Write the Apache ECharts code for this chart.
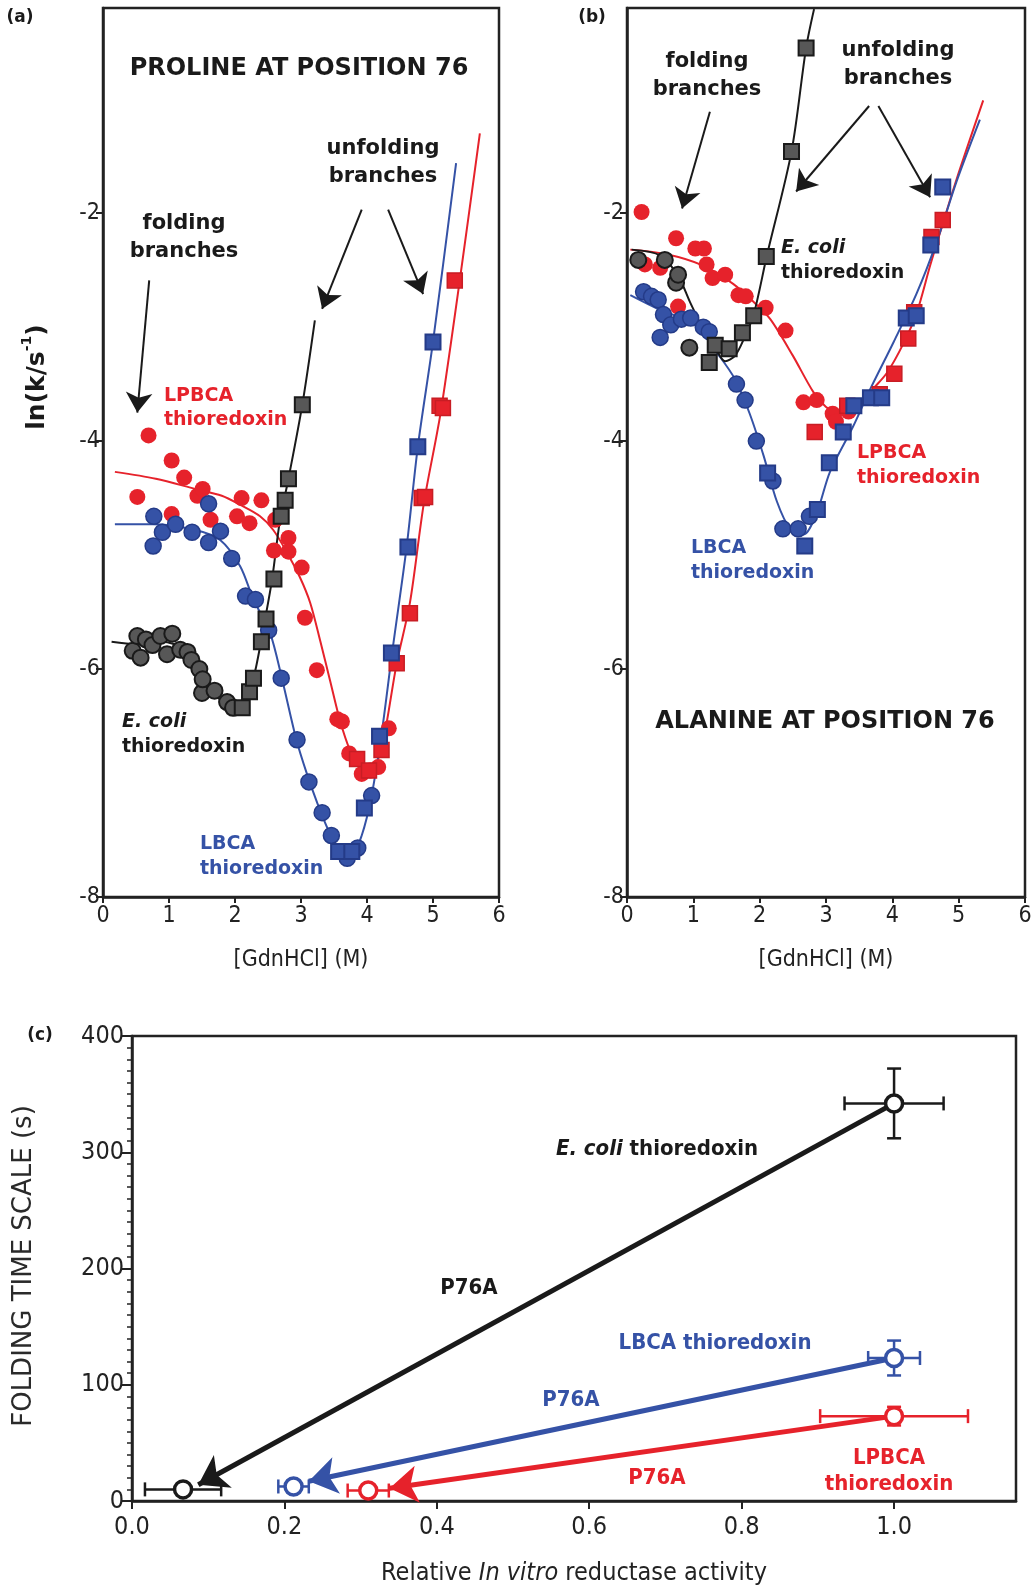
<!DOCTYPE html>
<html>
<head>
<meta charset="utf-8">
<title>Thioredoxin folding kinetics</title>
<script src="https://cdn.jsdelivr.net/npm/echarts@6/dist/echarts.min.js"></script>
<style>
  html, body { margin: 0; padding: 0; background: #fff; }
  #main { width: 1035px; height: 1588px; }
</style>
</head>
<body>
<div id="main"></div>
<script>
// ---- panel (a): proline at position 76, [x = GdnHCl (M), y = ln(k/s-1)]
var aLpbcaFold = [[0.52,-4.49],[0.69,-3.95],[1.04,-4.17],[1.04,-4.64],[1.23,-4.32],[1.43,-4.48],[1.51,-4.42],[1.63,-4.69],[2.03,-4.66],[2.10,-4.50],[2.22,-4.72],[2.40,-4.52],[2.59,-4.96],[2.61,-4.69],[2.81,-4.85],[2.81,-4.97],[3.01,-5.11],[3.06,-5.55],[3.24,-6.01],[3.55,-6.44],[3.62,-6.46],[3.73,-6.74],[3.92,-6.92],[4.05,-6.89],[4.17,-6.86],[4.33,-6.52]];
var aLpbcaUnfold = [[3.85,-6.79],[4.03,-6.89],[4.22,-6.71],[4.45,-5.95],[4.65,-5.51],[4.83,-4.50],[4.88,-4.49],[5.10,-3.69],[5.15,-3.71],[5.33,-2.59]];
var aLpbcaFit = [[0.18,-4.27],[0.80,-4.33],[1.40,-4.42],[1.80,-4.48],[2.08,-4.56],[2.38,-4.66],[2.58,-4.78],[2.78,-4.97],[2.98,-5.19],[3.14,-5.42],[3.29,-5.75],[3.44,-6.10],[3.59,-6.45],[3.74,-6.71],[3.89,-6.86],[4.00,-6.92],[4.12,-6.86],[4.25,-6.62],[4.45,-5.95],[4.65,-5.42],[4.86,-4.55],[5.13,-3.70],[5.71,-1.30]];

var aLbcaFold = [[0.76,-4.92],[0.77,-4.66],[0.90,-4.80],[1.10,-4.73],[1.35,-4.80],[1.60,-4.55],[1.60,-4.89],[1.78,-4.79],[1.95,-5.03],[2.16,-5.36],[2.31,-5.39],[2.51,-5.66],[2.70,-6.08],[2.94,-6.62],[3.12,-6.99],[3.32,-7.26],[3.46,-7.46],[3.70,-7.66],[3.86,-7.57],[4.07,-7.11]];
var aLbcaUnfold = [[3.57,-7.60],[3.77,-7.60],[3.96,-7.22],[4.19,-6.59],[4.37,-5.86],[4.62,-4.93],[4.77,-4.05],[5.00,-3.13]];
var aLbcaFit = [[0.18,-4.73],[0.75,-4.73],[1.40,-4.78],[1.78,-4.87],[2.08,-5.10],[2.28,-5.39],[2.53,-5.68],[2.71,-6.08],[2.93,-6.62],[3.09,-6.92],[3.25,-7.18],[3.42,-7.42],[3.62,-7.61],[3.77,-7.62],[3.92,-7.46],[4.07,-7.11],[4.23,-6.53],[4.38,-5.86],[4.60,-4.93],[4.77,-4.05],[5.00,-3.13],[5.35,-1.56]];

var aEcoliFold = [[0.45,-5.84],[0.52,-5.71],[0.57,-5.90],[0.65,-5.74],[0.75,-5.79],[0.87,-5.71],[0.97,-5.87],[1.05,-5.69],[1.17,-5.83],[1.28,-5.85],[1.34,-5.92],[1.46,-6.00],[1.50,-6.21],[1.51,-6.09],[1.69,-6.19],[1.88,-6.29],[1.97,-6.34]];
var aEcoliUnfold = [[2.11,-6.34],[2.22,-6.20],[2.28,-6.08],[2.40,-5.76],[2.47,-5.56],[2.59,-5.21],[2.70,-4.66],[2.76,-4.52],[2.81,-4.33],[3.02,-3.68]];
var aEcoliFit = [[0.13,-5.76],[0.50,-5.78],[0.90,-5.76],[1.20,-5.82],[1.45,-6.02],[1.70,-6.22],[1.95,-6.34],[2.11,-6.33],[2.22,-6.20],[2.32,-5.98],[2.45,-5.58],[2.56,-5.22],[2.68,-4.70],[2.81,-4.33],[3.02,-3.68],[3.21,-2.94]];

// ---- panel (b): alanine at position 76
var bLpbcaFold = [[0.22,-1.99],[0.27,-2.45],[0.50,-2.48],[0.74,-2.22],[0.77,-2.82],[1.03,-2.31],[1.16,-2.31],[1.20,-2.45],[1.29,-2.57],[1.48,-2.54],[1.68,-2.72],[1.79,-2.73],[2.09,-2.83],[2.39,-3.03],[2.66,-3.66],[2.86,-3.64],[3.10,-3.76],[3.15,-3.83],[3.34,-3.74]];
var bLpbcaUnfold = [[2.83,-3.92],[3.32,-3.69],[3.81,-3.59],[4.03,-3.41],[4.24,-3.10],[4.33,-2.87],[4.59,-2.21],[4.76,-2.06]];
var bLpbcaFit = [[0.05,-2.32],[0.60,-2.36],[1.15,-2.46],[1.60,-2.62],[1.91,-2.78],[2.16,-2.93],[2.50,-3.25],[2.81,-3.57],[3.00,-3.70],[3.20,-3.77],[3.40,-3.76],[3.55,-3.68],[3.67,-3.57],[3.92,-3.40],[4.17,-3.14],[4.37,-2.87],[4.57,-2.46],[4.72,-2.17],[4.97,-1.70],[5.37,-1.01]];

var bLbcaFold = [[0.25,-2.69],[0.37,-2.73],[0.47,-2.76],[0.50,-3.09],[0.55,-2.89],[0.66,-2.98],[0.82,-2.93],[0.96,-2.92],[1.15,-3.00],[1.24,-3.04],[1.65,-3.50],[1.78,-3.64],[1.95,-4.00],[2.20,-4.35],[2.35,-4.77],[2.58,-4.77],[2.75,-4.66]];
var bLbcaUnfold = [[2.12,-4.28],[2.68,-4.92],[2.87,-4.60],[3.05,-4.19],[3.26,-3.92],[3.42,-3.69],[3.67,-3.62],[3.84,-3.62],[4.21,-2.92],[4.36,-2.90],[4.58,-2.28],[4.76,-1.77]];
var bLbcaFit = [[0.05,-2.72],[0.50,-2.85],[1.00,-2.97],[1.40,-3.26],[1.63,-3.46],[1.85,-3.76],[2.06,-4.13],[2.26,-4.53],[2.46,-4.77],[2.66,-4.82],[2.86,-4.63],[3.06,-4.27],[3.41,-3.87],[3.67,-3.54],[4.02,-3.13],[4.37,-2.70],[4.67,-2.25],[4.97,-1.72],[5.32,-1.18]];

var bEcoliFold = [[0.17,-2.41],[0.57,-2.41],[0.74,-2.61],[0.77,-2.54],[0.94,-3.18]];
var bEcoliUnfold = [[1.24,-3.31],[1.33,-3.16],[1.54,-3.19],[1.74,-3.05],[1.91,-2.90],[2.10,-2.38],[2.48,-1.46],[2.70,-0.55]];
var bEcoliFit = [[0.07,-2.32],[0.50,-2.37],[0.77,-2.55],[0.95,-2.78],[1.15,-3.02],[1.33,-3.18],[1.48,-3.30],[1.63,-3.25],[1.78,-3.08],[1.91,-2.89],[2.11,-2.37],[2.48,-1.46],[2.70,-0.55],[2.82,-0.21]];

// annotation arrows (start, tip) in data units
var aArrows = [[[0.70,-2.59],[0.52,-3.75]], [[3.92,-1.97],[3.32,-2.84]], [[4.32,-1.97],[4.85,-2.71]]];
var bArrows = [[[1.25,-1.11],[0.83,-1.96]], [[3.65,-1.06],[2.55,-1.81]], [[3.79,-1.06],[4.57,-1.86]]];

// ---- panel (c): folding time scale vs relative reductase activity [wild type, P76A]
var ecoliX = [1.0, 0.067];   var ecoliY = [342, 10];
var ecoliXErr = [0.065, 0.05]; var ecoliYErr = [30, 0];
var lbcaX = [1.0, 0.212];    var lbcaY = [123, 12.5];
var lbcaXErr = [0.034, 0.02]; var lbcaYErr = [15, 3];
var lpbcaX = [1.0, 0.31];    var lpbcaY = [73, 9];
var lpbcaXErr = [0.097, 0.027]; var lpbcaYErr = [8, 2];
var cArrowTips = [[0.087, 14], [0.232, 17], [0.338, 11]];

var yTicksAB = [-8, -6, -4, -2];
var xTicksC = [0, 0.2, 0.4, 0.6, 0.8, 1.0];

var RED = '#e6222b', RED_D = '#c81d24';
var BLUE = '#3552a6', BLUE_D = '#243b88';
var GRAY = '#575757', BLACK = '#1a1a1a', AX = '#222';
var FONT_BOLD = "'DejaVu Sans', 'Open Sans', sans-serif";
var FONT_NARROW = "'Liberation Sans Narrow', 'DejaVu Sans Condensed', 'Roboto Condensed', sans-serif";

var myChart = echarts.init(document.getElementById('main'));

function pairs(xs, ys) {
  return xs.map(function (x, i) { return [x, ys[i]]; });
}
function errRows(xs, ys, ex, ey) {
  return xs.map(function (x, i) { return [x, ys[i], ex[i], ey[i]]; });
}

function dots(data, gi, symbol, fill, stroke, bw) {
  return {
    type: 'scatter', xAxisIndex: gi, yAxisIndex: gi, data: data,
    symbol: symbol, symbolSize: symbol === 'rect' ? 15 : 16,
    itemStyle: { color: fill, borderColor: stroke, borderWidth: bw, opacity: 1 },
    z: 4, silent: true
  };
}
function curve(data, gi, color) {
  return {
    type: 'line', xAxisIndex: gi, yAxisIndex: gi, data: data,
    smooth: 0.3, showSymbol: false, symbol: 'none',
    lineStyle: { color: color, width: 2 }, z: 2, silent: true
  };
}
function arrows(list, gi, color, width, size) {
  return {
    type: 'lines', coordinateSystem: 'cartesian2d', xAxisIndex: gi, yAxisIndex: gi,
    data: list.map(function (a) { return { coords: a }; }),
    symbol: ['none', 'arrow'], symbolSize: size,
    lineStyle: { color: color, width: width, opacity: 1, curveness: 0 },
    z: 3, silent: true
  };
}
function errBars(rows, color) {
  return {
    type: 'custom', xAxisIndex: 2, yAxisIndex: 2, data: rows, z: 3, silent: true,
    itemStyle: { color: color },
    renderItem: function (params, api) {
      var x = api.value(0), y = api.value(1), ex = api.value(2), ey = api.value(3);
      var l = api.coord([x - ex, y]), r = api.coord([x + ex, y]);
      var st = { stroke: color, lineWidth: 2.5 };
      var cap = 7;
      var ch = [
        { type: 'line', shape: { x1: l[0], y1: l[1], x2: r[0], y2: r[1] }, style: st },
        { type: 'line', shape: { x1: l[0], y1: l[1] - cap, x2: l[0], y2: l[1] + cap }, style: st },
        { type: 'line', shape: { x1: r[0], y1: r[1] - cap, x2: r[0], y2: r[1] + cap }, style: st }
      ];
      if (ey > 0) {
        var b = api.coord([x, y - ey]), t = api.coord([x, y + ey]);
        ch.push({ type: 'line', shape: { x1: b[0], y1: b[1], x2: t[0], y2: t[1] }, style: st });
        ch.push({ type: 'line', shape: { x1: b[0] - cap, y1: b[1], x2: b[0] + cap, y2: b[1] }, style: st });
        ch.push({ type: 'line', shape: { x1: t[0] - cap, y1: t[1], x2: t[0] + cap, y2: t[1] }, style: st });
      }
      return { type: 'group', children: ch };
    }
  };
}
function openDots(data, color) {
  return {
    type: 'scatter', xAxisIndex: 2, yAxisIndex: 2, data: data,
    symbol: 'circle', symbolSize: 17,
    itemStyle: { color: '#fff', borderColor: color, borderWidth: 3.5, opacity: 1 },
    z: 5, silent: true
  };
}

function gdnAxis(gi) {
  return {
    gridIndex: gi, type: 'value', min: 0, max: 6, interval: 1,
    name: '[GdnHCl] (M)', nameLocation: 'middle', nameGap: 52,
    nameTextStyle: { fontSize: 23, color: AX, fontFamily: FONT_NARROW },
    axisLine: { onZero: false, lineStyle: { color: AX, width: 2.5 } },
    axisTick: { show: true, length: 6, lineStyle: { color: AX, width: 2 } },
    axisLabel: { fontSize: 23, color: AX, fontFamily: FONT_NARROW, margin: 8 },
    splitLine: { show: false }
  };
}
function lnAxis(gi) {
  return {
    gridIndex: gi, type: 'value', min: -8, max: -0.2, interval: 2,
    axisLine: { onZero: false, lineStyle: { color: AX, width: 2.5 } },
    axisTick: { show: true, length: 7, customValues: yTicksAB, lineStyle: { color: AX, width: 2 } },
    axisLabel: { fontSize: 23, color: AX, fontFamily: FONT_NARROW, margin: 3, customValues: yTicksAB },
    splitLine: { show: false }
  };
}

function txt(x, y, text, size, color, o) {
  o = o || {};
  return {
    type: 'text', x: x, y: y, rotation: o.rot || 0, z: 20, silent: true,
    style: {
      text: text, fill: color, fontSize: size,
      fontWeight: o.weight || 'bold', fontStyle: 'normal',
      fontFamily: o.family || FONT_BOLD,
      align: o.align || 'center', textAlign: o.align || 'center',
      verticalAlign: 'middle', textVerticalAlign: 'middle',
      lineHeight: o.lh || Math.round(size * 1.3), rich: o.rich
    }
  };
}
function richTok(size, color, italic, family) {
  return { fontSize: size, fill: color, color: color, fontWeight: 'bold', fontStyle: italic ? 'italic' : 'normal', fontFamily: family || FONT_BOLD, lineHeight: Math.round(size * 1.3) };
}

var option = {
  animation: false,
  backgroundColor: '#fff',
  grid: [
    { left: 103, top: 8, width: 396, height: 889, show: true, borderColor: AX, borderWidth: 2.5, backgroundColor: 'transparent' },
    { left: 627, top: 8, width: 398, height: 889, show: true, borderColor: AX, borderWidth: 2.5, backgroundColor: 'transparent' },
    { left: 132, top: 1036, width: 884, height: 465, show: true, borderColor: AX, borderWidth: 2.5, backgroundColor: 'transparent' }
  ],
  xAxis: [
    gdnAxis(0),
    gdnAxis(1),
    {
      gridIndex: 2, type: 'value', min: 0, max: 1.16, interval: 0.2,
      name: '{n|Relative }{i|In vitro}{n| reductase activity}',
      nameLocation: 'middle', nameGap: 60,
      nameTextStyle: {
        rich: {
          n: { fontSize: 25, color: AX, fontFamily: FONT_NARROW },
          i: { fontSize: 25, color: AX, fontFamily: FONT_NARROW, fontStyle: 'italic' }
        }
      },
      axisLine: { onZero: false, lineStyle: { color: AX, width: 2.5 } },
      axisTick: { show: true, length: 8, customValues: xTicksC, lineStyle: { color: AX, width: 2 } },
      axisLabel: {
        fontSize: 25, color: AX, fontFamily: FONT_NARROW, margin: 14, customValues: xTicksC,
        formatter: function (v) { return v.toFixed(1); }
      },
      splitLine: { show: false }
    }
  ],
  yAxis: [
    lnAxis(0),
    lnAxis(1),
    {
      gridIndex: 2, type: 'value', min: 0, max: 400, interval: 100,
      axisLine: { onZero: false, lineStyle: { color: AX, width: 2.5 } },
      axisTick: { show: true, length: 10, lineStyle: { color: AX, width: 2 } },
      minorTick: { show: true, splitNumber: 10, length: 5, lineStyle: { color: AX, width: 1.5 } },
      axisLabel: { fontSize: 25, color: AX, fontFamily: FONT_NARROW, margin: 8 },
      splitLine: { show: false }
    }
  ],
  series: [
    // panel (a)
    curve(aLpbcaFit, 0, RED),
    curve(aLbcaFit, 0, BLUE),
    curve(aEcoliFit, 0, BLACK),
    arrows(aArrows, 0, BLACK, 2, [13, 20]),
    dots(aLpbcaFold, 0, 'circle', RED, RED, 0),
    dots(aLpbcaUnfold, 0, 'rect', RED, RED_D, 1.5),
    dots(aLbcaFold, 0, 'circle', BLUE, BLUE_D, 1.5),
    dots(aLbcaUnfold, 0, 'rect', BLUE, BLUE_D, 2),
    dots(aEcoliFold, 0, 'circle', GRAY, BLACK, 2),
    dots(aEcoliUnfold, 0, 'rect', GRAY, BLACK, 2),
    // panel (b)
    curve(bLpbcaFit, 1, RED),
    curve(bLbcaFit, 1, BLUE),
    curve(bEcoliFit, 1, BLACK),
    arrows(bArrows, 1, BLACK, 2, [13, 20]),
    dots(bLpbcaFold, 1, 'circle', RED, RED, 0),
    dots(bLpbcaUnfold, 1, 'rect', RED, RED_D, 1.5),
    dots(bLbcaFold, 1, 'circle', BLUE, BLUE_D, 1.5),
    dots(bLbcaUnfold, 1, 'rect', BLUE, BLUE_D, 2),
    dots(bEcoliFold, 1, 'circle', GRAY, BLACK, 2),
    dots(bEcoliUnfold, 1, 'rect', GRAY, BLACK, 2),
    // panel (c)
    arrows([[pairs(ecoliX, ecoliY)[0], cArrowTips[0]]], 2, BLACK, 5, [20, 28]),
    arrows([[pairs(lbcaX, lbcaY)[0], cArrowTips[1]]], 2, BLUE, 5, [20, 28]),
    arrows([[pairs(lpbcaX, lpbcaY)[0], cArrowTips[2]]], 2, RED, 5, [20, 28]),
    errBars(errRows(ecoliX, ecoliY, ecoliXErr, ecoliYErr), BLACK),
    errBars(errRows(lbcaX, lbcaY, lbcaXErr, lbcaYErr), BLUE),
    errBars(errRows(lpbcaX, lpbcaY, lpbcaXErr, lpbcaYErr), RED),
    openDots(pairs(ecoliX, ecoliY), BLACK),
    openDots(pairs(lbcaX, lbcaY), BLUE),
    openDots(pairs(lpbcaX, lpbcaY), RED)
  ],
  graphic: [
    // panel letters
    txt(20, 18, '(a)', 17, BLACK),
    txt(592, 18, '(b)', 17, BLACK),
    txt(40, 1036, '(c)', 17, BLACK),
    // y title of (a)
    txt(35, 377, '{b|ln(k/s}{s|-1}{b|)}', 25, BLACK, {
      rot: Math.PI / 2,
      rich: {
        b: { fontSize: 25, fill: BLACK, fontWeight: 'bold', fontFamily: FONT_BOLD, lineHeight: 30, verticalAlign: 'bottom' },
        s: { fontSize: 14, fill: BLACK, fontWeight: 'bold', fontFamily: FONT_BOLD, lineHeight: 30, verticalAlign: 'top', padding: [0, 0, 14, 0] }
      }
    }),
    // panel (a) texts
    txt(299, 69, 'PROLINE AT POSITION 76', 24, BLACK),
    txt(383, 163, 'unfolding\nbranches', 21, BLACK, { lh: 28 }),
    txt(184, 238, 'folding\nbranches', 21, BLACK, { lh: 28 }),
    txt(164, 408, 'LPBCA\nthioredoxin', 19, RED, { align: 'left', lh: 24 }),
    txt(122, 735, '{i|E. coli}\n{n|thioredoxin}', 19, BLACK, {
      align: 'left', lh: 26,
      rich: { i: richTok(19, BLACK, true), n: richTok(19, BLACK, false) }
    }),
    txt(200, 857, 'LBCA\nthioredoxin', 19, BLUE, { align: 'left', lh: 25 }),
    // panel (b) texts
    txt(707, 76, 'folding\nbranches', 21, BLACK, { lh: 28 }),
    txt(898, 65, 'unfolding\nbranches', 21, BLACK, { lh: 28 }),
    txt(781, 261, '{i|E. coli}\n{n|thioredoxin}', 19, BLACK, {
      align: 'left', lh: 25,
      rich: { i: richTok(19, BLACK, true), n: richTok(19, BLACK, false) }
    }),
    txt(857, 466, 'LPBCA\nthioredoxin', 19, RED, { align: 'left', lh: 25 }),
    txt(691, 561, 'LBCA\nthioredoxin', 19, BLUE, { align: 'left', lh: 25 }),
    txt(825, 722, 'ALANINE AT POSITION 76', 24, BLACK),
    // panel (c) texts
    txt(24, 1266, 'FOLDING TIME SCALE (s)', 26, '#2a2a2a', { rot: Math.PI / 2, weight: 'normal' }),
    txt(657, 1149, '{i|E. coli}{n| thioredoxin}', 22, BLACK, {
      rich: { i: richTok(22, BLACK, true, FONT_NARROW), n: richTok(22, BLACK, false, FONT_NARROW) }
    }),
    txt(469, 1288, 'P76A', 22, BLACK, { family: FONT_NARROW }),
    txt(715, 1343, 'LBCA thioredoxin', 22, BLUE, { family: FONT_NARROW }),
    txt(571, 1400, 'P76A', 22, BLUE, { family: FONT_NARROW }),
    txt(657, 1478, 'P76A', 22, RED, { family: FONT_NARROW }),
    txt(889, 1471, 'LPBCA\nthioredoxin', 22, RED, { family: FONT_NARROW, lh: 26 })
  ]
};

myChart.setOption(option);
</script>
</body>
</html>
